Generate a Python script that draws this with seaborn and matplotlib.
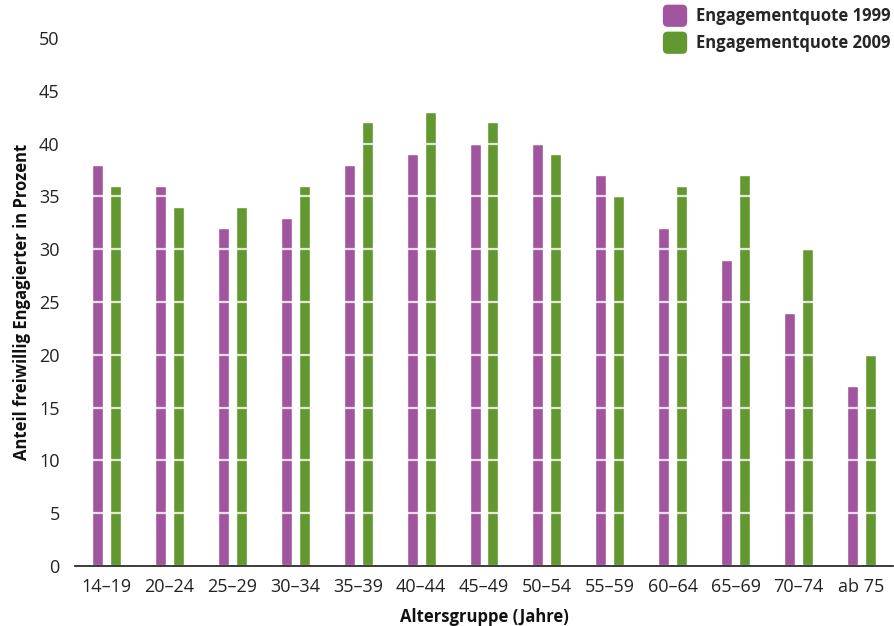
import matplotlib
matplotlib.use("Agg")
import matplotlib.pyplot as plt
from matplotlib.patches import FancyBboxPatch
from matplotlib.legend_handler import HandlerPatch
import seaborn as sns
import pandas as pd

# Age groups and engagement rates (percent)
age_groups = ["14–19", "20–24", "25–29", "30–34", "35–39", "40–44", "45–49",
              "50–54", "55–59", "60–64", "65–69", "70–74", "ab 75"]
rate_1999 = [38, 36, 32, 33, 38, 39, 40, 40, 37, 32, 29, 24, 17]
rate_2009 = [36, 34, 34, 36, 42, 43, 42, 39, 35, 36, 37, 30, 20]
series_names = ["Engagementquote 1999", "Engagementquote 2009"]
y_ticks = list(range(0, 51, 5))

PURPLE = "#a1559f"
GREEN = "#639830"

df = pd.DataFrame({
    "Altersgruppe": age_groups * 2,
    "Quote": rate_1999 + rate_2009,
    "Serie": [series_names[0]] * len(age_groups) + [series_names[1]] * len(age_groups),
})

sns.set_theme(style="white")
plt.rcParams["font.family"] = ["Open Sans", "DejaVu Sans"]

fig = plt.figure(figsize=(8.94, 6.26), dpi=100)
ax = fig.add_axes([75 / 894, 60 / 626, 818 / 894, 528 / 626])

sns.barplot(data=df, x="Altersgruppe", y="Quote", hue="Serie",
            palette=[PURPLE, GREEN], width=0.57, gap=0.39,
            saturation=1, ax=ax, legend=False)

ax.set_xlim(-0.5, len(age_groups) - 0.5)
ax.set_ylim(0, 50)
ax.set_yticks(y_ticks)

# white separators across the bars at every tick
ax.set_axisbelow(False)
ax.yaxis.grid(True, color="white", linewidth=1.6, alpha=0.8)
ax.xaxis.grid(False)

for side in ["top", "right", "left"]:
    ax.spines[side].set_visible(False)
ax.spines["bottom"].set_color("#1a1a1a")
ax.spines["bottom"].set_linewidth(1.2)
ax.spines["bottom"].set_zorder(5)

ax.tick_params(axis="y", length=0, pad=11, labelsize=13, labelcolor="#222222")
ax.tick_params(axis="x", length=0, pad=9, labelsize=13, labelcolor="#222222")

ax.set_xlabel("Altersgruppe (Jahre)", fontsize=12, fontweight="bold",
              color="#111111", labelpad=8)
ax.set_ylabel("Anteil freiwillig Engagierter in Prozent", fontsize=12,
              fontweight="bold", color="#111111", labelpad=6)


class RoundedSquare(HandlerPatch):
    """Legend key drawn as a small rounded square (size in points)."""

    def create_artists(self, legend, orig_handle, xdescent, ydescent,
                       width, height, fontsize, trans):
        w, h = 17.5, 16.0
        pad = 3.0
        x0 = -xdescent + (width - w) / 2
        y0 = -ydescent + (height - h) / 2
        p = FancyBboxPatch((x0 + pad, y0 + pad), w - 2 * pad, h - 2 * pad,
                           boxstyle=f"round,pad={pad},rounding_size=3.5",
                           facecolor=orig_handle.get_facecolor(),
                           edgecolor="none", transform=trans)
        return [p]


handles = [FancyBboxPatch((0, 0), 1, 1, facecolor=c) for c in (PURPLE, GREEN)]
fig.legend(handles, series_names, handler_map={FancyBboxPatch: RoundedSquare()},
           loc="upper right", bbox_to_anchor=(1.004, 1.0), frameon=False,
           prop={"weight": "bold", "size": 12}, handlelength=1.45,
           handleheight=1.3, handletextpad=0.55, labelspacing=0.5,
           borderaxespad=0.0)

fig.savefig("out.png", dpi=100)
